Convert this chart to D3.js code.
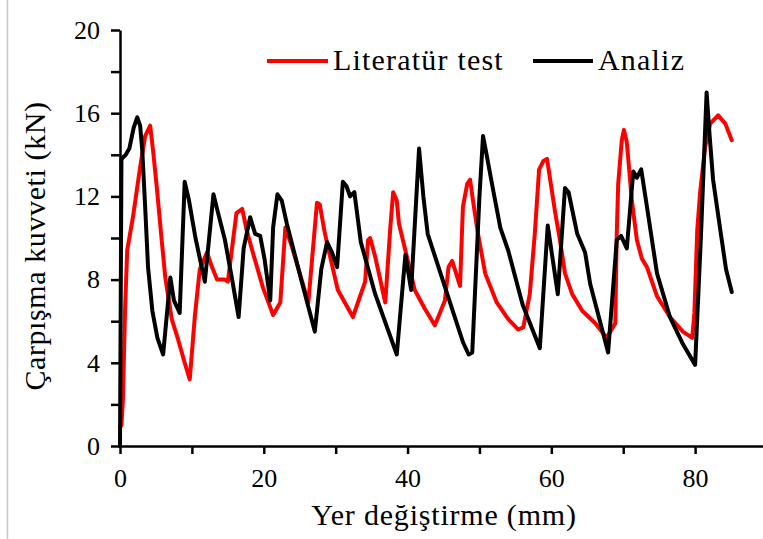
<!DOCTYPE html>
<html>
<head>
<meta charset="utf-8">
<script src="https://cdn.jsdelivr.net/npm/d3@7"></script>
<style>
  body { margin: 0; background: #fff; }
  svg { display: block; font-family: "Liberation Serif", "Times New Roman", serif; }
</style>
</head>
<body>
<script>
// eksen değerleri
const xMajorTicks = [0, 20, 40, 60, 80]
const xAllTicks = [0, 10, 20, 30, 40, 50, 60, 70, 80]
const yMajorTicks = [0, 4, 8, 12, 16, 20]
const yAllTicks = [0, 2, 4, 6, 8, 10, 12, 14, 16, 18, 20]

// seri isimleri
const seriesNames = ["Literatür test", "Analiz"]

// Literatür test (kırmızı) : [yer değiştirme mm, kuvvet kN]
const literaturTest = [
  [0,0.9],[0.2,1.0],[0.4,2.2],[0.7,6.5],[1.0,9.4],[1.8,11.0],[2.8,13.4],[3.5,14.9],[4.2,15.4],
  [4.6,14.2],[5.1,12.5],[5.8,9.9],[6.3,8.1],[7.2,6.1],[8.1,5.1],[9.0,4.0],[9.7,3.2],[10.4,6.2],
  [11.1,8.5],[12.1,9.3],[12.8,8.6],[13.5,8.0],[14.6,8.0],[15.0,7.9],[16.2,11.2],[17.0,11.4],
  [17.6,10.4],[18.4,9.4],[19.9,7.6],[21.3,6.3],[22.3,6.9],[23.0,10.5],[23.9,9.6],[26.2,6.9],
  [27.4,11.7],[27.8,11.6],[28.4,10.4],[28.9,9.6],[30.3,7.5],[32.4,6.2],[33.1,6.9],[34.1,7.9],
  [34.5,9.9],[34.8,10.0],[35.5,9.1],[36.9,6.9],[37.6,10.5],[38.0,12.2],[38.5,11.8],[38.8,10.7],
  [39.7,9.4],[41.0,7.5],[42.4,6.6],[43.1,6.2],[43.8,5.8],[44.5,6.4],[45.2,7.0],[45.7,8.6],
  [46.2,8.9],[47.3,7.7],[47.7,11.5],[48.3,12.6],[48.7,12.8],[49.1,11.8],[49.8,10.2],[50.8,8.3],
  [52.4,6.9],[54.0,6.1],[55.4,5.6],[56.1,5.7],[57.0,7.3],[57.7,10.2],[58.3,13.3],[58.9,13.7],
  [59.4,13.8],[59.8,12.9],[60.5,11.3],[61.2,9.9],[61.9,8.3],[62.9,7.3],[64.3,6.5],[66.1,5.9],
  [67.7,5.2],[68.9,5.9],[69.1,10.2],[69.3,12.6],[69.8,14.7],[70.1,15.2],[70.5,14.6],[71.2,11.8],
  [71.9,9.9],[72.6,9.0],[73.3,8.6],[74.7,7.2],[76.5,6.2],[78.3,5.5],[79.6,5.2],[79.9,6.4],
  [80.3,10.4],[80.7,12.2],[81.4,14.4],[82.1,15.5],[83.2,15.9],[84.2,15.5],[85.1,14.7]
]

// Analiz (siyah)
const analiz = [
  [0,0],[0.2,13.8],[0.8,14.0],[1.3,14.3],[1.9,15.3],[2.4,15.8],[2.8,15.4],[3.1,14.2],[3.5,11.5],
  [3.9,8.6],[4.5,6.5],[5.2,5.2],[6.0,4.4],[7.0,8.1],[7.5,7.0],[8.3,6.4],[9.0,12.7],[9.6,11.8],
  [10.5,10.0],[11.8,7.9],[13.0,12.1],[13.5,11.4],[14.6,9.9],[15.6,8.0],[16.5,6.2],[17.2,9.5],
  [18.1,11.0],[18.8,10.2],[19.5,10.1],[20.1,9.0],[20.9,7.0],[21.3,10.5],[21.9,12.1],[22.5,11.8],
  [23.2,10.7],[25.2,8.0],[27.1,5.5],[28.0,8.5],[28.8,9.8],[29.5,9.3],[30.2,8.6],[31.0,12.7],
  [31.5,12.5],[32.0,12.0],[32.6,12.2],[33.5,9.8],[35.5,7.3],[38.5,4.4],[39.7,9.2],[40.5,7.5],
  [41.6,14.3],[42.2,12.0],[42.8,10.2],[45.9,6.9],[47.7,5.0],[48.5,4.4],[49.0,4.5],[50.0,12.0],
  [50.5,14.9],[51.0,14.0],[51.8,12.5],[52.9,10.5],[54.0,9.4],[56.0,6.8],[58.4,4.7],[59.5,10.6],
  [60.9,7.3],[61.9,12.4],[62.4,12.2],[63.6,10.2],[64.7,9.3],[65.4,7.8],[67.9,4.5],[69.1,9.9],
  [69.7,10.1],[70.5,9.5],[71.4,13.2],[71.9,12.9],[72.5,13.3],[73.3,11.5],[74.7,8.3],[76.5,6.2],
  [78.3,4.9],[80.0,3.9],[80.8,10.0],[81.6,17.0],[82.0,15.0],[82.5,12.8],[83.5,10.4],[84.3,8.5],
  [85.1,7.4]
]

const width = 763
const height = 539
const margin = { top: 30, right: 0, bottom: 93, left: 120 }

const svg = d3.select("body")
  .append("svg")
  .attr("width", width)
  .attr("height", height)

// gri çerçeve çizgisi (sol)
svg.append("line")
  .attr("x1", 7.5).attr("x2", 7.5)
  .attr("y1", 0).attr("y2", height)
  .attr("stroke", "#c8c8c8")
  .attr("stroke-width", 1.5)

const x = d3.scaleLinear()
  .domain([0, 90])
  .range([margin.left, 767])

const y = d3.scaleLinear()
  .domain([0, 20])
  .range([height - margin.bottom, margin.top])

// y ekseni
const yAxis = svg.append("g")
  .attr("transform", "translate(" + margin.left + ",0)")
  .call(d3.axisLeft(y).tickValues(yAllTicks).tickSize(9).tickSizeOuter(0)
    .tickFormat(d => yMajorTicks.includes(d) ? d : ""))
yAxis.select(".domain").attr("stroke", "#000").attr("stroke-width", 2.5)
yAxis.selectAll(".tick line").attr("stroke", "#000").attr("stroke-width", 2.5)
yAxis.selectAll("text")
  .attr("font-family", "Liberation Serif")
  .attr("font-size", 26)
  .attr("fill", "#000")
  .attr("x", -20)

// x ekseni
const xAxis = svg.append("g")
  .attr("transform", "translate(0," + (height - margin.bottom) + ")")
  .call(d3.axisBottom(x).tickValues(xAllTicks).tickSize(8).tickSizeOuter(0)
    .tickFormat(d => xMajorTicks.includes(d) ? d : ""))
xAxis.select(".domain").attr("stroke", "#000").attr("stroke-width", 2.5)
xAxis.selectAll(".tick line").attr("stroke", "#000").attr("stroke-width", 2.5)
xAxis.selectAll("text")
  .attr("font-family", "Liberation Serif")
  .attr("font-size", 26)
  .attr("fill", "#000")
  .attr("y", 23)

// eksen başlıkları
svg.append("text")
  .attr("x", 444)
  .attr("y", 525)
  .attr("text-anchor", "middle")
  .attr("font-size", 30)
  .attr("letter-spacing", 0.8)
  .text("Yer değiştirme (mm)")

svg.append("text")
  .attr("transform", "translate(45,246) rotate(-90)")
  .attr("text-anchor", "middle")
  .attr("font-size", 30)
  .attr("letter-spacing", 0.6)
  .text("Çarpışma kuvveti (kN)")

// çizgiler
const line = d3.line()
  .x(d => x(d[0]))
  .y(d => y(d[1]))

svg.append("path")
  .datum(literaturTest)
  .attr("d", line)
  .attr("fill", "none")
  .attr("stroke", "#ff0000")
  .attr("stroke-width", 4)
  .attr("stroke-linejoin", "round")
  .attr("stroke-linecap", "round")

svg.append("path")
  .datum(analiz)
  .attr("d", line)
  .attr("fill", "none")
  .attr("stroke", "#000")
  .attr("stroke-width", 4)
  .attr("stroke-linejoin", "round")
  .attr("stroke-linecap", "round")

// lejant
const legend = [
  { name: seriesNames[0], color: "#ff0000", x1: 267, x2: 328 },
  { name: seriesNames[1], color: "#000", x1: 533, x2: 593 }
]
legend.forEach(l => {
  svg.append("line")
    .attr("x1", l.x1).attr("x2", l.x2)
    .attr("y1", 61).attr("y2", 61)
    .attr("stroke", l.color)
    .attr("stroke-width", 4)
  svg.append("text")
    .attr("x", l.x2 + 5)
    .attr("y", 70)
    .attr("font-size", 30)
    .attr("letter-spacing", 1.2)
    .text(l.name)
})
</script>
</body>
</html>
